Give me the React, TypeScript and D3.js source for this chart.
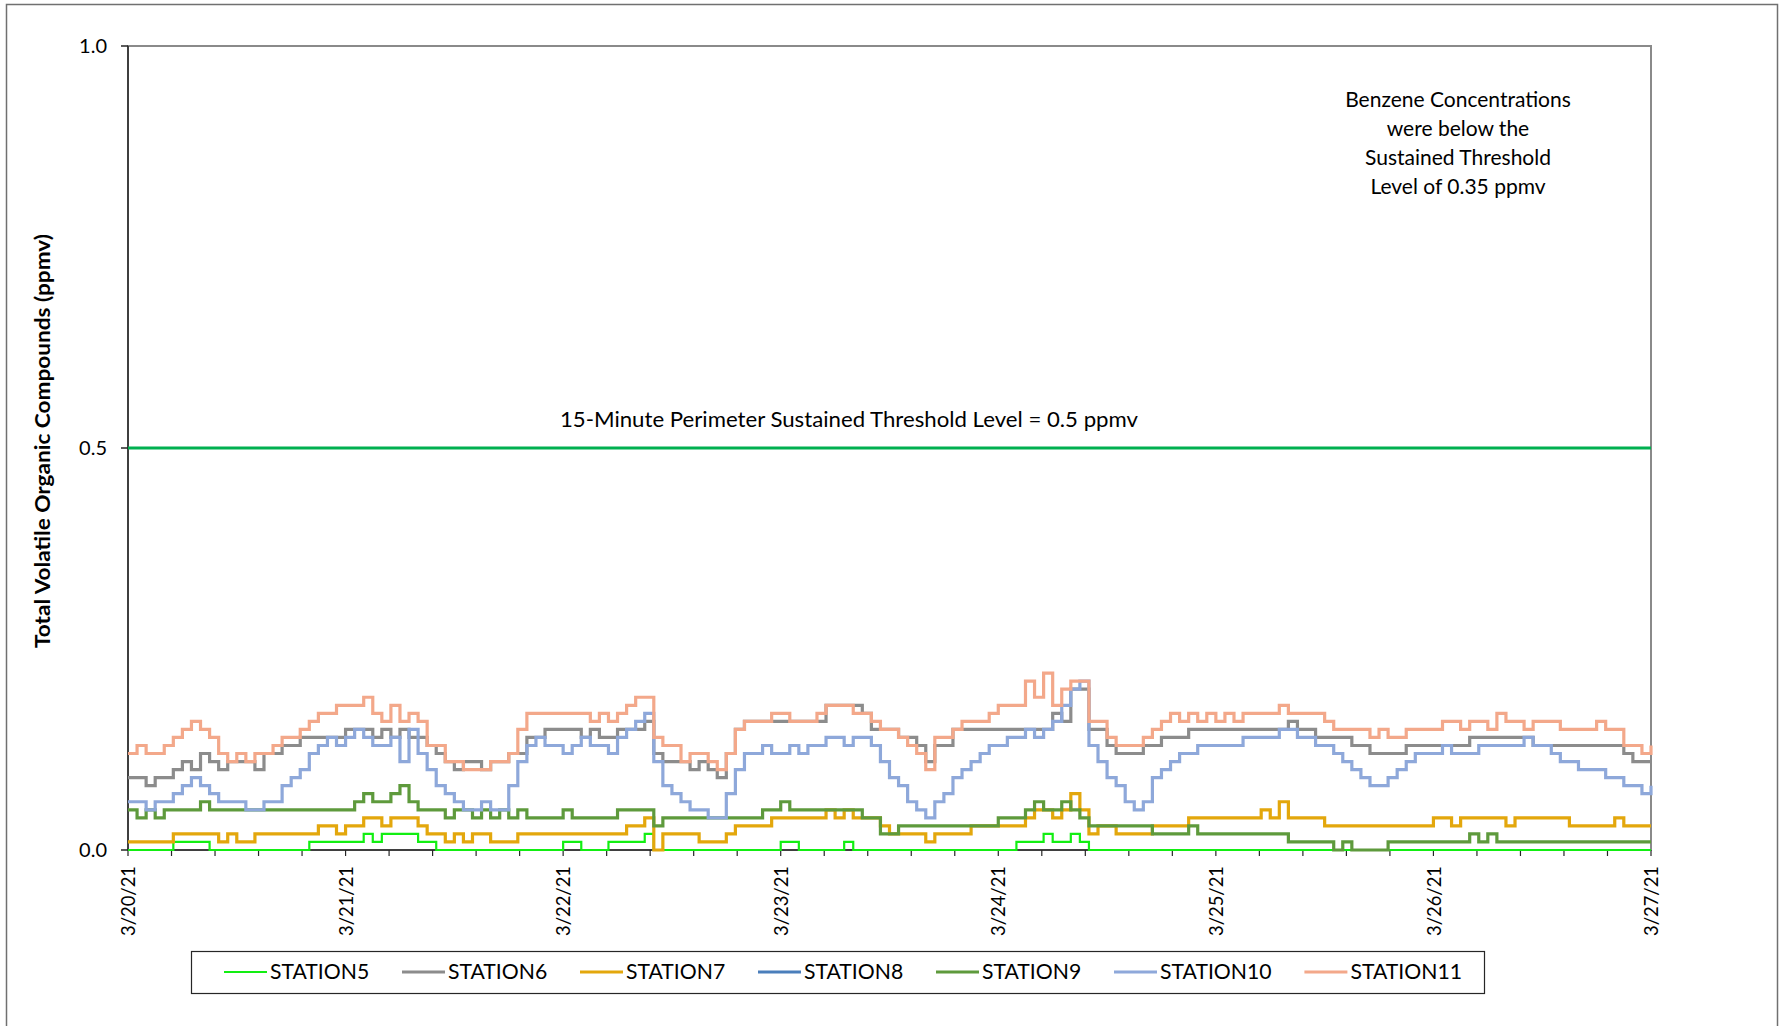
import React from "react";
import * as d3 from "d3";

// ---------- data (ppmv, hourly readings from 3/20/21 00:00 to 3/27/21 00:00) ----------
const dateLabels = ["3/20/21", "3/21/21", "3/22/21", "3/23/21", "3/24/21", "3/25/21", "3/26/21", "3/27/21"];
const yTicks = [0.0, 0.5, 1.0];
const thresholdValue = 0.5;
const thresholdLabel = "15-Minute Perimeter Sustained Threshold Level = 0.5 ppmv";
const benzeneNote = ["Benzene Concentrations", "were below the", "Sustained Threshold", "Level of 0.35 ppmv"];
const yAxisTitle = "Total Volatile Organic Compounds (ppmv)";

const station5 = [
  0, 0, 0, 0, 0, 0.01, 0.01, 0.01, 0.01, 0, 0, 0, 0, 0, 0, 0, 0, 0, 0, 0, 0.01, 0.01, 0.01, 0.01,
  0.01, 0.01, 0.02, 0.01, 0.02, 0.02, 0.02, 0.02, 0.01, 0.01, 0, 0, 0, 0, 0, 0, 0, 0, 0, 0, 0, 0, 0, 0,
  0.01, 0.01, 0, 0, 0, 0.01, 0.01, 0.01, 0.01, 0.02, 0, 0, 0, 0, 0, 0, 0, 0, 0, 0, 0, 0, 0, 0,
  0.01, 0.01, 0, 0, 0, 0, 0, 0.01, 0, 0, 0, 0, 0, 0, 0, 0, 0, 0, 0, 0, 0, 0, 0, 0,
  0, 0, 0.01, 0.01, 0.01, 0.02, 0.01, 0.01, 0.02, 0.01, 0, 0, 0, 0, 0, 0, 0, 0, 0, 0, 0, 0, 0, 0,
  0, 0, 0, 0, 0, 0, 0, 0, 0, 0, 0, 0, 0, 0, 0, 0, 0, 0, 0, 0, 0, 0, 0, 0,
  0, 0, 0, 0, 0, 0, 0, 0, 0, 0, 0, 0, 0, 0, 0, 0, 0, 0, 0, 0, 0, 0, 0, 0, 0,
];
const station6 = [
  0.09, 0.09, 0.08, 0.09, 0.09, 0.10, 0.11, 0.10, 0.12, 0.11, 0.10, 0.11, 0.11, 0.11, 0.10, 0.12, 0.12, 0.13, 0.13, 0.14, 0.14, 0.14, 0.14, 0.14,
  0.15, 0.15, 0.15, 0.14, 0.15, 0.14, 0.15, 0.14, 0.14, 0.13, 0.12, 0.11, 0.10, 0.11, 0.11, 0.10, 0.11, 0.11, 0.12, 0.12, 0.14, 0.14, 0.15, 0.15,
  0.15, 0.15, 0.14, 0.15, 0.14, 0.14, 0.15, 0.15, 0.15, 0.16, 0.12, 0.11, 0.11, 0.11, 0.10, 0.11, 0.10, 0.09, 0.12, 0.15, 0.16, 0.16, 0.16, 0.16,
  0.16, 0.16, 0.16, 0.16, 0.16, 0.18, 0.18, 0.18, 0.18, 0.17, 0.15, 0.15, 0.15, 0.14, 0.14, 0.13, 0.11, 0.13, 0.13, 0.15, 0.15, 0.15, 0.15, 0.15,
  0.15, 0.15, 0.15, 0.15, 0.15, 0.15, 0.17, 0.16, 0.20, 0.20, 0.15, 0.15, 0.13, 0.12, 0.12, 0.12, 0.13, 0.13, 0.14, 0.14, 0.14, 0.15, 0.15, 0.15,
  0.15, 0.15, 0.15, 0.15, 0.15, 0.15, 0.15, 0.15, 0.16, 0.15, 0.15, 0.14, 0.14, 0.14, 0.14, 0.13, 0.13, 0.12, 0.12, 0.12, 0.12, 0.13, 0.13, 0.13,
  0.13, 0.13, 0.13, 0.13, 0.14, 0.14, 0.14, 0.14, 0.14, 0.14, 0.14, 0.13, 0.13, 0.13, 0.13, 0.13, 0.13, 0.13, 0.13, 0.13, 0.13, 0.12, 0.11, 0.11, 0.11,
];
const station7 = [
  0.01, 0.01, 0.01, 0.01, 0.01, 0.02, 0.02, 0.02, 0.02, 0.02, 0.01, 0.02, 0.01, 0.01, 0.02, 0.02, 0.02, 0.02, 0.02, 0.02, 0.02, 0.03, 0.03, 0.02,
  0.03, 0.03, 0.04, 0.04, 0.03, 0.04, 0.04, 0.04, 0.03, 0.02, 0.02, 0.01, 0.02, 0.01, 0.02, 0.02, 0.01, 0.01, 0.01, 0.02, 0.02, 0.02, 0.02, 0.02,
  0.02, 0.02, 0.02, 0.02, 0.02, 0.02, 0.02, 0.03, 0.03, 0.04, 0.00, 0.02, 0.02, 0.02, 0.02, 0.01, 0.01, 0.01, 0.02, 0.03, 0.03, 0.03, 0.03, 0.04,
  0.04, 0.04, 0.04, 0.04, 0.04, 0.05, 0.04, 0.05, 0.04, 0.04, 0.04, 0.03, 0.02, 0.02, 0.02, 0.02, 0.01, 0.02, 0.02, 0.02, 0.02, 0.03, 0.03, 0.03,
  0.03, 0.03, 0.03, 0.04, 0.05, 0.05, 0.04, 0.05, 0.07, 0.05, 0.02, 0.03, 0.03, 0.02, 0.02, 0.02, 0.02, 0.03, 0.03, 0.03, 0.03, 0.04, 0.04, 0.04,
  0.04, 0.04, 0.04, 0.04, 0.04, 0.05, 0.04, 0.06, 0.04, 0.04, 0.04, 0.04, 0.03, 0.03, 0.03, 0.03, 0.03, 0.03, 0.03, 0.03, 0.03, 0.03, 0.03, 0.03,
  0.04, 0.04, 0.03, 0.04, 0.04, 0.04, 0.04, 0.04, 0.03, 0.04, 0.04, 0.04, 0.04, 0.04, 0.04, 0.03, 0.03, 0.03, 0.03, 0.03, 0.04, 0.03, 0.03, 0.03, 0.03,
];
// STATION8 reported no plotted readings for this week (legend entry only)
const station8: number[] = [];
const station9 = [
  0.05, 0.04, 0.05, 0.04, 0.05, 0.05, 0.05, 0.05, 0.06, 0.05, 0.05, 0.05, 0.05, 0.05, 0.05, 0.05, 0.05, 0.05, 0.05, 0.05, 0.05, 0.05, 0.05, 0.05,
  0.05, 0.06, 0.07, 0.06, 0.06, 0.07, 0.08, 0.06, 0.05, 0.05, 0.05, 0.04, 0.05, 0.05, 0.04, 0.05, 0.04, 0.05, 0.04, 0.05, 0.04, 0.04, 0.04, 0.04,
  0.05, 0.04, 0.04, 0.04, 0.04, 0.04, 0.05, 0.05, 0.05, 0.05, 0.03, 0.04, 0.04, 0.04, 0.04, 0.04, 0.04, 0.04, 0.04, 0.04, 0.04, 0.04, 0.05, 0.05,
  0.06, 0.05, 0.05, 0.05, 0.05, 0.05, 0.05, 0.05, 0.05, 0.04, 0.04, 0.02, 0.02, 0.03, 0.03, 0.03, 0.03, 0.03, 0.03, 0.03, 0.03, 0.03, 0.03, 0.03,
  0.04, 0.04, 0.04, 0.05, 0.06, 0.05, 0.05, 0.06, 0.05, 0.04, 0.03, 0.03, 0.03, 0.03, 0.03, 0.03, 0.03, 0.02, 0.02, 0.02, 0.02, 0.03, 0.02, 0.02,
  0.02, 0.02, 0.02, 0.02, 0.02, 0.02, 0.02, 0.02, 0.01, 0.01, 0.01, 0.01, 0.01, 0.00, 0.01, 0.00, 0.00, 0.00, 0.00, 0.01, 0.01, 0.01, 0.01, 0.01,
  0.01, 0.01, 0.01, 0.01, 0.02, 0.01, 0.02, 0.01, 0.01, 0.01, 0.01, 0.01, 0.01, 0.01, 0.01, 0.01, 0.01, 0.01, 0.01, 0.01, 0.01, 0.01, 0.01, 0.01, 0.01,
];
const station10 = [
  0.06, 0.06, 0.05, 0.06, 0.06, 0.07, 0.08, 0.09, 0.08, 0.07, 0.06, 0.06, 0.06, 0.05, 0.05, 0.06, 0.06, 0.08, 0.09, 0.10, 0.12, 0.13, 0.14, 0.13,
  0.14, 0.15, 0.14, 0.13, 0.13, 0.14, 0.11, 0.15, 0.12, 0.10, 0.08, 0.07, 0.06, 0.05, 0.05, 0.06, 0.05, 0.05, 0.08, 0.11, 0.13, 0.14, 0.13, 0.13,
  0.12, 0.13, 0.14, 0.13, 0.13, 0.12, 0.14, 0.15, 0.16, 0.17, 0.11, 0.08, 0.07, 0.06, 0.05, 0.05, 0.04, 0.04, 0.07, 0.10, 0.12, 0.12, 0.13, 0.12,
  0.12, 0.13, 0.12, 0.13, 0.13, 0.14, 0.14, 0.13, 0.14, 0.14, 0.13, 0.11, 0.09, 0.08, 0.06, 0.05, 0.04, 0.06, 0.07, 0.09, 0.10, 0.11, 0.12, 0.13,
  0.13, 0.14, 0.14, 0.15, 0.14, 0.15, 0.16, 0.18, 0.20, 0.21, 0.13, 0.11, 0.09, 0.08, 0.06, 0.05, 0.06, 0.09, 0.10, 0.11, 0.12, 0.12, 0.13, 0.13,
  0.13, 0.13, 0.13, 0.14, 0.14, 0.14, 0.14, 0.15, 0.15, 0.14, 0.14, 0.13, 0.13, 0.12, 0.11, 0.10, 0.09, 0.08, 0.08, 0.09, 0.10, 0.11, 0.12, 0.12,
  0.12, 0.13, 0.12, 0.12, 0.12, 0.13, 0.13, 0.13, 0.13, 0.13, 0.14, 0.13, 0.13, 0.12, 0.11, 0.11, 0.10, 0.10, 0.10, 0.09, 0.09, 0.08, 0.08, 0.07, 0.08,
];
const station11 = [
  0.12, 0.13, 0.12, 0.12, 0.13, 0.14, 0.15, 0.16, 0.15, 0.14, 0.12, 0.11, 0.12, 0.11, 0.12, 0.12, 0.13, 0.14, 0.14, 0.15, 0.16, 0.17, 0.17, 0.18,
  0.18, 0.18, 0.19, 0.17, 0.16, 0.18, 0.16, 0.17, 0.16, 0.13, 0.13, 0.11, 0.11, 0.10, 0.10, 0.10, 0.11, 0.11, 0.12, 0.15, 0.17, 0.17, 0.17, 0.17,
  0.17, 0.17, 0.17, 0.16, 0.17, 0.16, 0.17, 0.18, 0.19, 0.19, 0.14, 0.13, 0.13, 0.11, 0.12, 0.12, 0.11, 0.10, 0.12, 0.15, 0.16, 0.16, 0.16, 0.17,
  0.17, 0.16, 0.16, 0.16, 0.17, 0.18, 0.18, 0.18, 0.17, 0.17, 0.16, 0.15, 0.15, 0.14, 0.13, 0.12, 0.10, 0.14, 0.14, 0.15, 0.16, 0.16, 0.16, 0.17,
  0.18, 0.18, 0.18, 0.21, 0.19, 0.22, 0.18, 0.20, 0.21, 0.21, 0.16, 0.16, 0.14, 0.13, 0.13, 0.13, 0.14, 0.15, 0.16, 0.17, 0.16, 0.17, 0.16, 0.17,
  0.16, 0.17, 0.16, 0.17, 0.17, 0.17, 0.17, 0.18, 0.17, 0.17, 0.17, 0.17, 0.16, 0.15, 0.15, 0.15, 0.15, 0.14, 0.15, 0.14, 0.14, 0.15, 0.15, 0.15,
  0.15, 0.16, 0.16, 0.15, 0.16, 0.16, 0.15, 0.17, 0.16, 0.16, 0.15, 0.16, 0.16, 0.16, 0.15, 0.15, 0.15, 0.15, 0.16, 0.15, 0.15, 0.13, 0.13, 0.12, 0.13,
];

const seriesNames = ["STATION5", "STATION6", "STATION7", "STATION8", "STATION9", "STATION10", "STATION11"];
const seriesValues = [station5, station6, station7, station8, station9, station10, station11];
const seriesColors = ["#12EE12", "#8C8C8C", "#E3A70C", "#4A7EBB", "#5E9A3C", "#8EA8DA", "#F3A88A"];
const seriesWidths = [2.2, 3.2, 3.2, 3.2, 3.2, 3.2, 3.2];

const FONT = "Lato, 'Noto Sans', sans-serif";

export default function App() {
  const W = 1780;
  const H = 1026;
  const plot = { left: 128, top: 46, right: 1651, bottom: 850 };
  const totalHours = (dateLabels.length - 1) * 24;

  const x = d3.scaleLinear().domain([0, totalHours]).range([plot.left, plot.right]);
  const y = d3.scaleLinear().domain([0, 1]).range([plot.bottom, plot.top]);

  const line = d3
    .line<number>()
    .x((_, i) => x(i))
    .y((d) => y(d))
    .curve(d3.curveStepAfter);

  const minorTicks = d3.range(0, totalHours + 0.001, 4.8);

  // legend layout
  const charW = 12.4;
  const legendStart = 224;
  const legendItems: { name: string; x: number; w: number; i: number }[] = [];
  let cx = legendStart;
  seriesNames.forEach((name, i) => {
    const w = name.length * charW;
    legendItems.push({ name, x: cx, w, i });
    cx += 46 + w + 32.8;
  });

  return (
    <div style={{ position: "absolute", left: 0, top: 0, width: W, height: H, background: "#fff" }}>
      <svg width={W} height={H} style={{ display: "block" }} fontFamily={FONT}>
        <rect x={0} y={0} width={W} height={H} fill="#fff" />
        {/* outer chart border */}
        <rect x={6.5} y={4.5} width={1771} height={1100} fill="none" stroke="#707070" strokeWidth={1.5} />

        {/* plot area frame */}
        <rect
          x={plot.left}
          y={plot.top}
          width={plot.right - plot.left}
          height={plot.bottom - plot.top}
          fill="none"
          stroke="#8A8A8A"
          strokeWidth={2}
        />
        {/* axes */}
        <line x1={plot.left} x2={plot.left} y1={plot.top} y2={plot.bottom} stroke="#262626" strokeWidth={1.5} />
        <line x1={plot.left} x2={plot.right} y1={plot.bottom} y2={plot.bottom} stroke="#262626" strokeWidth={1.5} />

        {/* y ticks */}
        {yTicks.map((t) => (
          <g key={"yt" + t}>
            <line x1={plot.left - 7} x2={plot.left} y1={y(t)} y2={y(t)} stroke="#262626" strokeWidth={1.5} />
            <text x={107} y={y(t)} dy="0.36em" textAnchor="end" fontSize={20} fill="#000">
              {t.toFixed(1)}
            </text>
          </g>
        ))}

        {/* x ticks */}
        {minorTicks.map((h, i) => (
          <line key={"xt" + i} x1={x(h)} x2={x(h)} y1={plot.bottom} y2={plot.bottom + 6} stroke="#262626" strokeWidth={1.2} />
        ))}
        {dateLabels.map((lab, i) => (
          <text
            key={"xl" + i}
            transform={`translate(${x(i * 24)},${plot.bottom + 16}) rotate(-90)`}
            textAnchor="end"
            dy="0.36em"
            fontSize={20}
            textLength={70}
            lengthAdjust="spacingAndGlyphs"
            fill="#000"
          >
            {lab}
          </text>
        ))}

        {/* y axis title */}
        <text
          transform={`translate(50,441) rotate(-90)`}
          textAnchor="middle"
          fontSize={20}
          fontWeight="bold"
          textLength={414}
          lengthAdjust="spacingAndGlyphs"
          fill="#000"
        >
          {yAxisTitle}
        </text>

        {/* threshold */}
        <line
          x1={plot.left}
          x2={plot.right}
          y1={y(thresholdValue)}
          y2={y(thresholdValue)}
          stroke="#00B050"
          strokeWidth={3}
        />
        <text x={560} y={427} fontSize={21} textLength={578} lengthAdjust="spacingAndGlyphs" fill="#000">
          {thresholdLabel}
        </text>

        {/* note */}
        {benzeneNote.map((s, i) => (
          <text key={"bn" + i} x={1458} y={107 + i * 29} textAnchor="middle" fontSize={21} fill="#000">
            {s}
          </text>
        ))}

        {/* series */}
        {seriesValues.map((vals, i) =>
          vals.length ? (
            <path
              key={"s" + i}
              d={line(vals) || ""}
              fill="none"
              stroke={seriesColors[i]}
              strokeWidth={seriesWidths[i]}
              strokeLinejoin="miter"
            />
          ) : null
        )}

        {/* legend */}
        <rect x={191.5} y={951.5} width={1293} height={42} fill="#fff" stroke="#262626" strokeWidth={1.2} />
        {legendItems.map((it) => (
          <g key={"lg" + it.i}>
            <line
              x1={it.x}
              x2={it.x + 43}
              y1={972}
              y2={972}
              stroke={seriesColors[it.i]}
              strokeWidth={it.i === 0 ? 2.2 : 3}
            />
            <text
              x={it.x + 46}
              y={979}
              fontSize={21}
              textLength={it.w}
              lengthAdjust="spacingAndGlyphs"
              fill="#000"
            >
              {it.name}
            </text>
          </g>
        ))}
      </svg>
    </div>
  );
}
